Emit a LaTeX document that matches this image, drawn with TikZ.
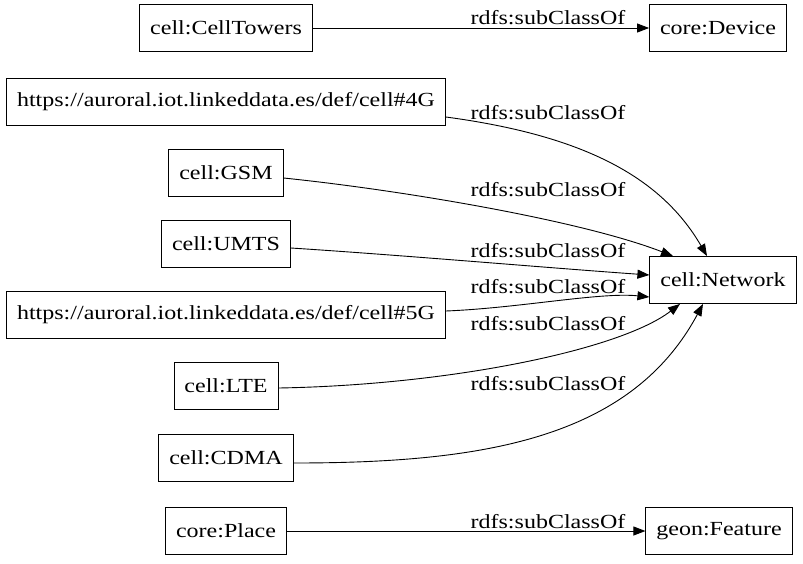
\documentclass[tikz,border=0pt]{standalone}
\usepackage{fontspec}
\setmainfont{Liberation Serif}[FakeStretch=1.2]
\usetikzlibrary{arrows.meta}
\tikzset{
  cls/.style={draw, line width=0.9pt, rectangle, inner xsep=10.5pt, minimum height=47pt, font=\fontsize{20}{22}\selectfont},
  lbl/.style={font=\fontsize{20}{22}\selectfont, inner sep=0pt},
  sub/.style={line width=0.9pt, -{Triangle[length=12pt,width=9pt]}}
}
\begin{document}
\begin{tikzpicture}[x=1pt,y=-1pt]
\useasboundingbox (0,0) rectangle (803,563);
\node[cls] (towers) at (226,28) {cell:CellTowers};
\node[cls] (device) at (718,28) {core:Device};
\node[cls] (g4) at (226,102) {https://auroral.iot.linkeddata.es/def/cell\#4G};
\node[cls] (gsm) at (226,173) {cell:GSM};
\node[cls] (umts) at (226,244) {cell:UMTS};
\node[cls] (g5) at (226,315) {https://auroral.iot.linkeddata.es/def/cell\#5G};
\node[cls] (lte) at (226,386) {cell:LTE};
\node[cls] (cdma) at (226,458) {cell:CDMA};
\node[cls] (place) at (226,531) {core:Place};
\node[cls] (feature) at (719,531) {geon:Feature};
\node[cls] (net) at (723,280) {cell:Network};

\draw[sub] (towers.east) -- (device.west);
\draw[sub] (place.east) -- (feature.west);
\draw[sub] (g4.east |- 0,117) .. controls (580,135) and (660,175) .. ([xshift=-16pt]net.north);
\draw[sub] (gsm.east |- 0,178) .. controls (400,190) and (580,220) .. ([xshift=-50pt]net.north);
\draw[sub] (umts.east |- 0,248) .. controls (400,255) and (550,268) .. ([yshift=5pt]net.west);
\draw[sub] (g5.east |- 0,311) .. controls (520,308) and (600,292) .. ([yshift=-17pt]net.west);
\draw[sub] (lte.east |- 0,388) .. controls (450,385) and (620,350) .. ([xshift=-43pt]net.south);
\draw[sub] (cdma.east |- 0,463) .. controls (480,463) and (630,440) .. ([xshift=-20pt]net.south);

\node[lbl] (l1) at (548,18) {rdfs:subClassOf};
\node[lbl] (l2) at (548,113) {rdfs:subClassOf};
\node[lbl] (l3) at (548,190) {rdfs:subClassOf};
\node[lbl] (l4) at (548,251) {rdfs:subClassOf};
\node[lbl] (l5) at (548,287) {rdfs:subClassOf};
\node[lbl] (l6) at (548,324) {rdfs:subClassOf};
\node[lbl] (l7) at (548,384) {rdfs:subClassOf};
\node[lbl] (l8) at (548,522) {rdfs:subClassOf};
\end{tikzpicture}
\end{document}
